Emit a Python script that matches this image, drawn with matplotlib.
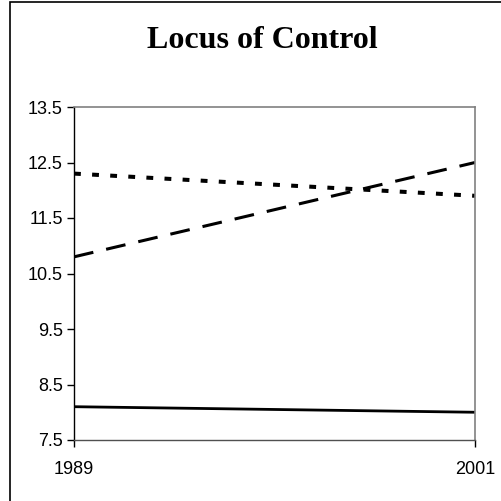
import matplotlib
matplotlib.use("Agg")
import matplotlib.pyplot as plt
from matplotlib.patches import Rectangle

years = [1989, 2001]
series_solid = [8.1, 8.0]
series_dashed = [10.8, 12.5]
series_dotted = [12.3, 11.9]
yticks = [7.5, 8.5, 9.5, 10.5, 11.5, 12.5, 13.5]
title = "Locus of Control"

fig = plt.figure(figsize=(5.02, 5.01), dpi=100)
fig.patches.append(Rectangle((10/502, -0.1), 1.2, 1 - 2/501 + 0.1, transform=fig.transFigure,
                             fill=False, edgecolor="black", linewidth=1.2))

ax = fig.add_axes([74/502, 1 - 440/501, 401/502, 333/501])
ax.plot(years, series_solid, color="black", linewidth=2.0, solid_capstyle="butt")
ax.plot(years, series_dashed, color="black", linewidth=2.2, linestyle=(0, (6.5, 4.3)), dash_capstyle="butt")
ax.plot(years, series_dotted, color="black", linewidth=2.9, linestyle=(0, (1.7, 2.8)), dash_capstyle="butt")

ax.set_xlim(years[0], years[-1])
ax.set_ylim(yticks[0], yticks[-1])
ax.set_yticks(yticks)
ax.set_yticklabels([f"{v:.1f}" for v in yticks])
ax.set_xticks(years)
ax.set_xticklabels([str(y) for y in years])

for s in ["top", "right"]:
    ax.spines[s].set_color("#808080")
    ax.spines[s].set_linewidth(1.2)
ax.spines["left"].set_color("black")
ax.spines["left"].set_linewidth(1.0)
ax.spines["bottom"].set_color("#505050")
ax.spines["bottom"].set_linewidth(1.0)

ax.tick_params(axis="y", direction="out", length=5, width=1, pad=3,
               labelsize=13, colors="black")
ax.tick_params(axis="x", direction="out", length=5, width=1, pad=10,
               labelsize=13, colors="black")
for lab in ax.get_xticklabels() + ax.get_yticklabels():
    lab.set_fontfamily("Liberation Sans")

fig.text(262/502, 1 - 41/501, title, ha="center", va="center",
         fontsize=23, fontweight="bold", fontfamily="Liberation Serif")

fig.savefig("out.png", dpi=100)
